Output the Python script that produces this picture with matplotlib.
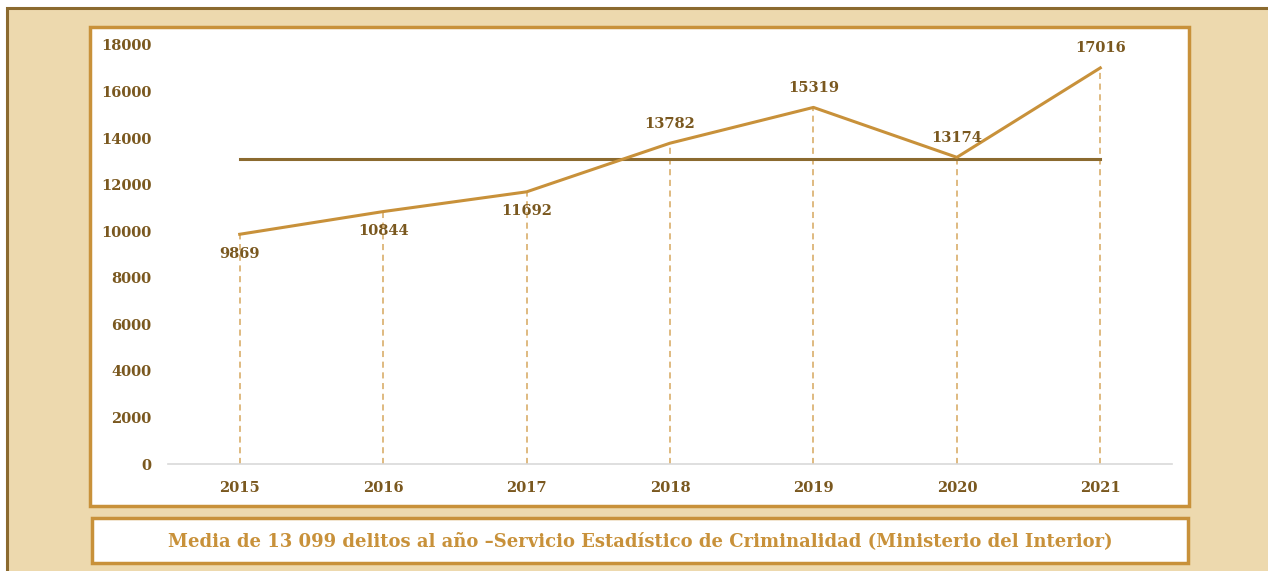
import matplotlib
matplotlib.use('Agg')
from matplotlib import pyplot as plt
from matplotlib.patches import Rectangle

years = ['2015', '2016', '2017', '2018', '2019', '2020', '2021']
delitos = [9869, 10844, 11692, 13782, 15319, 13174, 17016]
media = 13099
label_below = [True, True, True, False, False, False, False]
yticks = [0, 2000, 4000, 6000, 8000, 10000, 12000, 14000, 16000, 18000]
caption = 'Media de 13 099 delitos al año \u2013Servicio Estadístico de Criminalidad (Ministerio del Interior)'

BG = '#EDD9AE'
GOLD = '#C8913A'
BROWN = '#7A581F'
DASH = '#D6A75E'

W, H = 1268, 571
plt.rcParams['font.family'] = ['DejaVu Serif']
plt.rcParams['font.weight'] = 'bold'

fig = plt.figure(figsize=(W / 100, H / 100), dpi=100)
fig.patch.set_facecolor('white')


def px_rect(x0, y0, x1, y1, **kw):
    # rectangle in pixel coords (top-left origin)
    return Rectangle((x0 / W, 1 - y1 / H), (x1 - x0) / W, (y1 - y0) / H,
                     transform=fig.transFigure, zorder=-5, **kw)


# beige page with brown frame on top/left
fig.patches.append(px_rect(7, 8, W + 20, H + 20, facecolor=BG, edgecolor='#8B6A2F', linewidth=2.2))
# white chart box and caption box
fig.patches.append(px_rect(90, 27, 1189, 506, facecolor='white', edgecolor=GOLD, linewidth=2.5))
fig.patches.append(px_rect(92, 518, 1188, 563, facecolor='white', edgecolor=GOLD, linewidth=2.5))

ax = fig.add_axes([168 / W, (H - 464) / H, 1004 / W, 419 / H])
ax.set_zorder(5)
ax.set_facecolor('none')
x = list(range(len(years)))

# drop lines
ax.vlines(x, 0, delitos, colors=DASH, linestyles=(0, (4, 3)), linewidth=1.1, zorder=1)
ax.plot([x[0], x[-1]], [media, media], color='#8B6A2F', linewidth=2.2, zorder=2)
ax.plot(x, delitos, color=GOLD, linewidth=2.2, zorder=3)

for xi, v, below in zip(x, delitos, label_below):
    ax.annotate(str(v), (xi, v), xytext=(0, -14 if below else 14), textcoords='offset points',
                ha='center', va='center', fontsize=10.5, fontweight='bold', color=BROWN,
                annotation_clip=False)

ax.set_xlim(-0.5, 6.5)
ax.set_ylim(0, 18000)
ax.set_xticks(x)
ax.set_xticklabels(years)
ax.set_yticks(yticks)
ax.set_yticklabels([str(t) for t in yticks])
ax.tick_params(axis='both', length=0, labelsize=10.5, colors=BROWN)
ax.tick_params(axis='y', pad=12)
ax.tick_params(axis='x', pad=12)
for lab in ax.get_xticklabels() + ax.get_yticklabels():
    lab.set_fontweight('bold')
for s in ['top', 'right', 'left']:
    ax.spines[s].set_visible(False)
ax.spines['bottom'].set_color('#D9D9D9')
ax.spines['bottom'].set_linewidth(1.2)

fig.text(640 / W, 1 - 541 / H, caption, ha='center', va='center', fontsize=13,
         fontweight='bold', color=GOLD)

fig.savefig('out.png', dpi=100, facecolor=fig.get_facecolor())
